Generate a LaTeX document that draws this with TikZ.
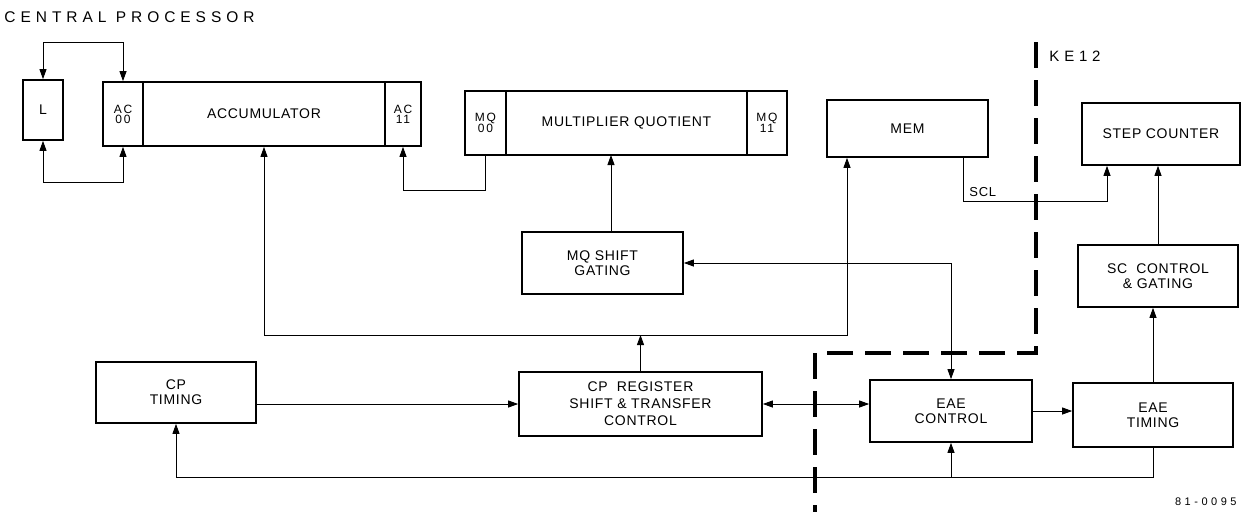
\documentclass[tikz,border=0pt]{standalone}
\usepackage{fontspec}
\setmainfont{Liberation Sans}
\newfontfamily\lblfont[LetterSpace=5]{Liberation Sans}
\newfontfamily\regfont[LetterSpace=15]{Liberation Sans}
\newfontfamily\ttlfont[LetterSpace=32]{Liberation Sans}
\usetikzlibrary{arrows.meta}

\begin{document}
\begin{tikzpicture}[x=1pt,y=-1pt,line width=0.9pt,
    >={Triangle[length=10pt,width=7pt]},
    blk/.style 2 args={draw,line width=1.7pt,minimum width=#1,minimum height=#2,
      inner sep=0pt,align=center,font=\lblfont\fontsize{14}{15}\selectfont},
    reg/.style={blk={#1}{64pt},font=\regfont\fontsize{12}{10}\selectfont},
    lbl/.style={inner sep=0pt,font=\lblfont\fontsize{13}{15}\selectfont},
    boundary/.style={line width=3.5pt,dash pattern=on 26pt off 12pt}]
                \useasboundingbox (0,0) rectangle (1243,512);
                \node[anchor=west,inner sep=0pt,font=\ttlfont\fontsize{15.5}{17}\selectfont] (title) at (4,17) {CENTRAL PROCESSOR};
                % registers
                \node[blk={40pt}{60pt}] (L) at (43,110) {L};
                \node[reg=40pt] (ac00) at (123,114) {AC\\00};
                \node[blk={242pt}{64pt}] (acc) at (264,114) {ACCUMULATOR};
                \node[reg=36pt] (ac11) at (403,114) {AC\\11};
                \node[reg=41pt] (mq00) at (485.5,123) {MQ\\00};
                \node[blk={241pt}{64pt}] (mult) at (626.5,123) {MULTIPLIER QUOTIENT};
                \node[reg=40pt] (mq11) at (767,123) {MQ\\11};
                \node[blk={161pt}{57pt}] (mem) at (907.5,128.5) {MEM};
                \node[blk={158pt}{62pt}] (step) at (1161,134) {STEP COUNTER};
                % control blocks
                \node[blk={161pt}{62pt}] (mqshift) at (602.5,263) {MQ SHIFT\\GATING};
                \node[blk={160pt}{62pt}] (scctrl) at (1158,276) {SC\ \ CONTROL\\\& GATING};
                \node[blk={160pt}{61pt}] (cptiming) at (176,392.5) {CP\\TIMING};
                \node[blk={243pt}{64pt},font=\lblfont\fontsize{14}{17}\selectfont] (cpreg) at (640.5,404) {CP\ \ REGISTER\\SHIFT \& TRANSFER\\CONTROL};
                \node[blk={162pt}{62pt}] (eaectrl) at (951,411) {EAE\\CONTROL};
                \node[blk={160pt}{64pt}] (eaetiming) at (1153,415) {EAE\\TIMING};
                % bends
                \coordinate (topL) at (43,42);
                \coordinate (botL) at (43,182);
                \coordinate (mqj) at (485.5,190);
                \coordinate (mqin) at (611,155);
                \coordinate (busR) at (847,335);
                \coordinate (sclA) at (963,201);
                \coordinate (sclB) at (1107,201);
                \coordinate (ret) at (951,477);
                \draw [<->] (L.north) -- (topL) -| (ac00.north);
                \draw [<->] (L.south) -- (botL) -| (ac00.south);
                \draw [->] (mq00.south) -- (mqj) -| (ac11.south);
                \draw [->] (mqshift.north -| mqin) -- (mqin);
                \draw [<->] (acc.south) |- (busR) -- (mem.south -| busR);
                \draw [->] (cpreg.north) -- (cpreg.north |- busR);
                \draw [<->] (mqshift.east) -| (eaectrl.north);
                \draw [->] (mem.south -| sclA) -- (sclA) -- (sclB) -- (step.south -| sclB);
                \node[lbl,anchor=west] (scl) at (969,192) {SCL};
                \draw [->] (cptiming.east |- cpreg.west) -- (cpreg.west);
                \draw [<->] (cpreg.east) -- (cpreg.east -| eaectrl.west);
                \draw [->] (eaectrl.east) -- (eaectrl.east -| eaetiming.west);
                \draw [->] (eaetiming.north) -- (eaetiming.north |- scctrl.south);
                \draw [->] (scctrl.north) -- (scctrl.north |- step.south);
                \draw [->] (eaetiming.south) |- (ret) -- (eaectrl.south);
                \draw [->] (ret) -| (cptiming.south);
                % KE12 boundary
                \draw [boundary] (1036,42) -- (1036,353) -- (815,353) -- (815,512);
                \node[lbl,anchor=west,font=\ttlfont\fontsize{15}{17}\selectfont] (ke) at (1049,56) {KE12};
                \node[lbl,anchor=east,font=\ttlfont\fontsize{11}{13}\selectfont] (dwg) at (1237,502) {81-0095};
            \end{tikzpicture}
\end{document}
